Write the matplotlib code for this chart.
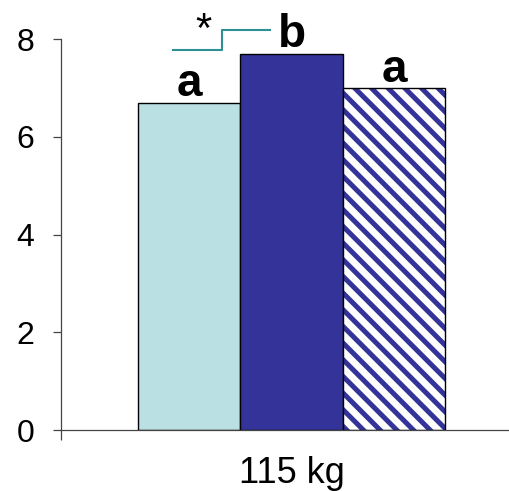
import matplotlib
matplotlib.use('Agg')
import matplotlib.pyplot as plt

plt.rcParams['font.family'] = ['Liberation Sans', 'DejaVu Sans']
plt.rcParams['hatch.linewidth'] = 3.6

# data
category = '115 kg'
values = [6.7, 7.7, 7.0]
letters = ['a', 'b', 'a']
yticks = [0, 2, 4, 6, 8]

navy = '#333399'
positions = [-1, 0, 1]

fig = plt.figure(figsize=(5.10, 4.91), dpi=100)
ax = fig.add_axes([0.1196, 0.1242, 0.8804, 0.7963])

# plain bars
ax.bar(positions[0], values[0], width=1, color='#BBE0E3', edgecolor='black', linewidth=1)
ax.bar(positions[1], values[1], width=1, color=navy, edgecolor='black', linewidth=1)
# hatched bar: hatch in navy, outline in black
ax.bar(positions[2], values[2], width=1, color='white', edgecolor=navy, hatch='\\\\', linewidth=0)
ax.bar(positions[2], values[2], width=1, facecolor='none', edgecolor='black', linewidth=1)

for x, v, s in zip(positions, values, letters):
    ax.text(x, v + 0.13, s, ha='center', va='baseline', fontsize=33, fontweight='bold')

# significance step between first two bars
ax.plot([-1.156, -0.678, -0.678, -0.21], [7.77, 7.77, 8.18, 8.18],
        color='#2E8F94', linewidth=1.5, clip_on=False)
ax.text(-0.863, 7.93, '*', ha='center', va='baseline', fontsize=30)

ax.set_ylim(0, 8)
ax.set_xlim(-2.251, 2.134)
ax.set_yticks(yticks)
ax.set_yticklabels([str(t) for t in yticks])
ax.set_xticks([0])
ax.set_xticklabels([category])
ax.set_xticks([-2.251], minor=True)

for side in ['top', 'right']:
    ax.spines[side].set_visible(False)
for side in ['left', 'bottom']:
    ax.spines[side].set_color('#444444')
    ax.spines[side].set_linewidth(0.9)

ax.tick_params(axis='y', direction='out', length=6, width=0.9, color='#444444',
               labelsize=23, pad=13)
ax.tick_params(axis='x', which='major', length=0, labelsize=26, pad=19)
ax.tick_params(axis='x', which='minor', direction='out', length=7, width=0.9, color='#444444')

fig.savefig('out.png', dpi=100)
